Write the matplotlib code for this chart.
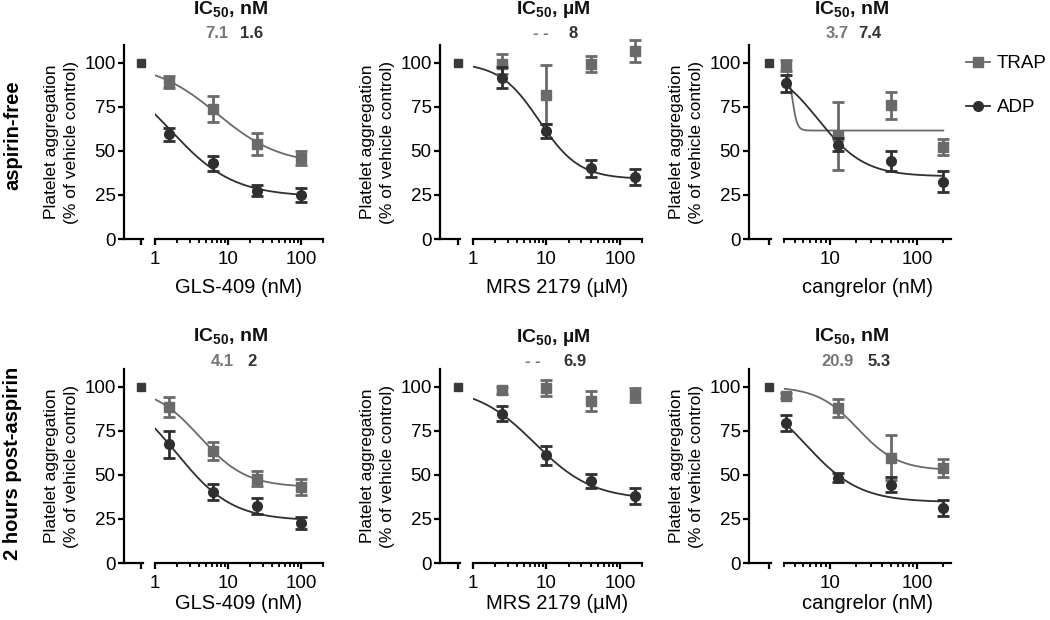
import numpy as np
import matplotlib
matplotlib.use('Agg')
import matplotlib.pyplot as plt
from matplotlib.lines import Line2D
from matplotlib.ticker import LogLocator, NullFormatter, FuncFormatter

plt.rcParams['font.family'] = ['Liberation Sans', 'DejaVu Sans']
plt.rcParams['mathtext.fontset'] = 'custom'
plt.rcParams['mathtext.rm'] = 'Liberation Sans'
plt.rcParams['mathtext.bf'] = 'Liberation Sans:bold'

# doses
gls_dose = [1.5625, 6.25, 25, 100]
mrs_dose = [2.5, 10, 40, 160]
cang_dose = [3.125, 12.5, 50, 200]

# aspirin-free
free_gls_trap = [89.2, 73.5, 53.9, 45.7]
free_gls_trap_err = [3.3, 7.4, 6.0, 4.0]
free_gls_adp = [59.4, 42.9, 27.4, 25.0]
free_gls_adp_err = [3.8, 4.2, 3.3, 4.2]
free_mrs_trap = [99.2, 81.7, 99.2, 106.6]
free_mrs_trap_err = [5.5, 16.7, 4.6, 6.0]
free_mrs_adp = [91.5, 61.4, 40.1, 35.3]
free_mrs_adp_err = [6.1, 3.9, 4.7, 4.4]
free_cang_trap = [98.3, 58.3, 75.9, 52.2]
free_cang_trap_err = [3.0, 19.4, 7.6, 4.6]
free_cang_adp = [88.2, 53.5, 44.2, 32.6]
free_cang_adp_err = [4.8, 3.5, 5.5, 6.0]

# 2 hours post-aspirin
post_gls_trap = [88.6, 63.4, 47.9, 43.2]
post_gls_trap_err = [5.7, 5.0, 4.2, 4.4]
post_gls_adp = [67.2, 40.3, 32.4, 22.7]
post_gls_adp_err = [7.6, 4.5, 4.6, 3.5]
post_mrs_trap = [97.9, 99.4, 91.8, 95.2]
post_mrs_trap_err = [2.0, 4.5, 5.7, 4.0]
post_mrs_adp = [84.6, 61.1, 46.7, 37.8]
post_mrs_adp_err = [4.3, 5.5, 4.0, 4.6]
post_cang_trap = [94.9, 87.7, 59.8, 53.6]
post_cang_trap_err = [1.5, 5.1, 13.0, 5.1]
post_cang_adp = [79.5, 48.3, 44.5, 31.2]
post_cang_adp_err = [4.5, 2.6, 4.5, 4.7]

# 4-parameter fits: (top, bottom, IC50, hill); None = no fit drawn
free_gls_trap_fit = (100, 42, 7.1, 1.0)
free_gls_adp_fit = (100, 24, 1.6, 1.0)
free_mrs_trap_fit = None
free_mrs_adp_fit = (100, 34, 8.0, 1.6)
free_cang_trap_fit = (100, 61.5, 3.7, 15)
free_cang_adp_fit = (100, 35.5, 7.4, 1.63)
post_gls_trap_fit = (100, 43, 4.1, 1.37)
post_gls_adp_fit = (100, 24, 2.0, 1.14)
post_mrs_trap_fit = None
post_mrs_adp_fit = (100, 36, 6.9, 1.1)
post_cang_trap_fit = (100, 52.5, 20.9, 1.88)
post_cang_adp_fit = (100, 34.5, 5.3, 1.4)

# IC50 labels (TRAP, ADP)
free_ic50 = [('7.1', '1.6'), ('- -', '8'), ('3.7', '7.4')]
post_ic50 = [('4.1', '2'), ('- -', '6.9'), ('20.9', '5.3')]
ic50_units = ['nM', 'µM', 'nM']
xlabels = ['GLS-409 (nM)', 'MRS 2179 (µM)', 'cangrelor (nM)']
row_labels = ['aspirin-free', '2 hours post-aspirin']
control_value = 100

TRAP_C = '#6a6a6a'
ADP_C = '#2f2f2f'
W, H = 1050, 620


def four_pl(x, fit):
    top, bottom, ic50, hill = fit
    return bottom + (top - bottom) / (1 + (x / ic50) ** hill)


panels = [
    [(gls_dose, free_gls_trap, free_gls_trap_err, free_gls_trap_fit,
      free_gls_adp, free_gls_adp_err, free_gls_adp_fit),
     (mrs_dose, free_mrs_trap, free_mrs_trap_err, free_mrs_trap_fit,
      free_mrs_adp, free_mrs_adp_err, free_mrs_adp_fit),
     (cang_dose, free_cang_trap, free_cang_trap_err, free_cang_trap_fit,
      free_cang_adp, free_cang_adp_err, free_cang_adp_fit)],
    [(gls_dose, post_gls_trap, post_gls_trap_err, post_gls_trap_fit,
      post_gls_adp, post_gls_adp_err, post_gls_adp_fit),
     (mrs_dose, post_mrs_trap, post_mrs_trap_err, post_mrs_trap_fit,
      post_mrs_adp, post_mrs_adp_err, post_mrs_adp_fit),
     (cang_dose, post_cang_trap, post_cang_trap_err, post_cang_trap_fit,
      post_cang_adp, post_cang_adp_err, post_cang_adp_fit)],
]
ic50_rows = [free_ic50, post_ic50]

# layout in pixels
row_y = [(45, 239), (369, 563)]
col_ctrl = [(124, 143), (440, 460), (749, 771)]
col_log = [(155, 323), (473, 642), (784, 951)]
xlims = [(1, 200), (1, 200), (3.0, 245)]
title_x = [231, 553, 852]
val_x = [[(217, 252), (541, 573), (837, 870)],
         [(222, 252), (533, 575), (837, 879)]]
title_y = [10, 337]
val_y = [33, 362]
xlabel_pad = [7, 1.5]
row_label_y = [135, 463]


def px_box(x0, x1, y0, y1):
    return [x0 / W, 1 - y1 / H, (x1 - x0) / W, (y1 - y0) / H]


fig = plt.figure(figsize=(10.5, 6.2), dpi=100)

for r in range(2):
    y0, y1 = row_y[r]
    for c in range(3):
        dose, trap, trap_err, trap_fit, adp, adp_err, adp_fit = panels[r][c]
        axc = fig.add_axes(px_box(col_ctrl[c][0], col_ctrl[c][1], y0, y1))
        axl = fig.add_axes(px_box(col_log[c][0], col_log[c][1], y0, y1), sharey=axc)

        # control segment
        axc.plot([1], [control_value], 's', color='#3a3a3a', ms=6, clip_on=False)
        axc.set_xlim(0, 1.12)
        axc.set_ylim(0, 110)
        axc.set_xticks([1])
        axc.set_xticklabels([])
        axc.set_yticks([0, 25, 50, 75, 100])
        axc.spines['top'].set_visible(False)
        axc.spines['right'].set_visible(False)
        for s in ['left', 'bottom']:
            axc.spines[s].set_linewidth(1.6)
        axc.tick_params(width=1.6, length=4.5, labelsize=13.5, pad=1.5)
        axc.set_ylabel('Platelet aggregation\n(% of vehicle control)',
                       fontsize=12.5, labelpad=4, linespacing=1.4)

        # log segment
        axl.set_xscale('log')
        axl.set_xlim(*xlims[c])
        xs = np.logspace(np.log10(xlims[c][0]), np.log10(dose[-1]), 300)
        axl.errorbar(dose, trap, yerr=trap_err, fmt='s', color=TRAP_C, ms=6.5,
                     elinewidth=2, capsize=4.5, capthick=2, clip_on=False, zorder=3)
        if trap_fit is not None:
            axl.plot(xs, four_pl(xs, trap_fit), color=TRAP_C, lw=1.3, zorder=2)
        axl.errorbar(dose, adp, yerr=adp_err, fmt='o', color=ADP_C, ms=7,
                     elinewidth=2, capsize=4.5, capthick=2, clip_on=False, zorder=4)
        if adp_fit is not None:
            axl.plot(xs, four_pl(xs, adp_fit), color=ADP_C, lw=1.3, zorder=2)
        for s in ['top', 'right', 'left']:
            axl.spines[s].set_visible(False)
        axl.spines['bottom'].set_linewidth(1.6)
        axl.tick_params(axis='y', left=False, labelleft=False)
        axl.xaxis.set_major_locator(LogLocator(base=10, numticks=10))
        axl.xaxis.set_minor_locator(LogLocator(base=10, subs=np.arange(2, 10), numticks=20))
        axl.xaxis.set_minor_formatter(NullFormatter())
        axl.xaxis.set_major_formatter(FuncFormatter(lambda v, p: '%g' % v))
        axl.tick_params(axis='x', which='major', width=1.6, length=4.5, labelsize=13.5, pad=4)
        axl.tick_params(axis='x', which='minor', width=1.3, length=3)
        axl.set_xlabel(xlabels[c], fontsize=14.5, labelpad=xlabel_pad[r])

        # titles and IC50 values
        fig.text(title_x[c] / W, 1 - title_y[r] / H,
                 'IC$_{\\mathbf{50}}$, ' + ic50_units[c], ha='center', va='center',
                 fontsize=14, fontweight='bold', color='#111111')
        tv, av = ic50_rows[r][c]
        fig.text(val_x[r][c][0] / W, 1 - val_y[r] / H, tv, ha='center', va='center',
                 fontsize=12, fontweight='bold', color='#777777')
        fig.text(val_x[r][c][1] / W, 1 - val_y[r] / H, av, ha='center', va='center',
                 fontsize=12, fontweight='bold', color='#333333')

    fig.text(13 / W, 1 - row_label_y[r] / H, row_labels[r], rotation=90,
             ha='center', va='center', fontsize=14.5, fontweight='bold')

handles = [Line2D([], [], color=TRAP_C, marker='s', ms=6.5, lw=1.3),
           Line2D([], [], color=ADP_C, marker='o', ms=7, lw=1.3)]
fig.legend(handles, ['TRAP', 'ADP'], loc='upper left',
           bbox_to_anchor=(966 / W, 1 - 55 / H), frameon=False, fontsize=13.5,
           handlelength=1.3, handletextpad=0.35, labelspacing=1.45,
           borderpad=0, borderaxespad=0)

fig.savefig('out.png', dpi=100)
